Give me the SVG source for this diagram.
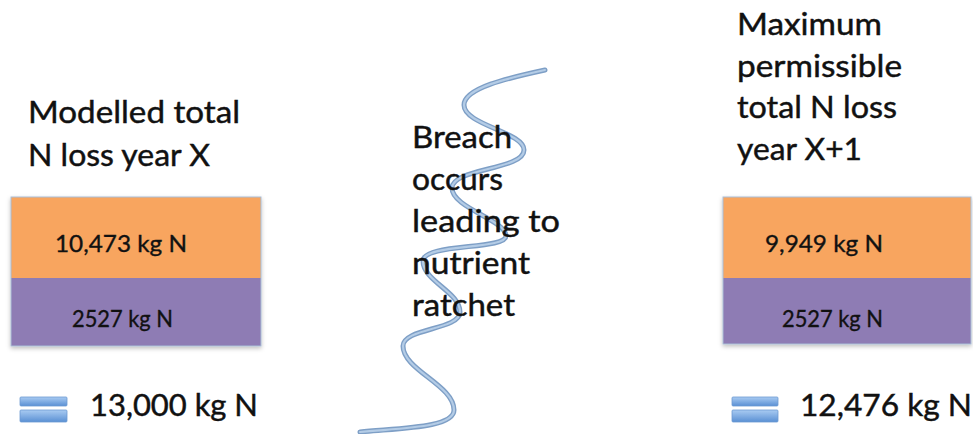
<svg xmlns="http://www.w3.org/2000/svg" width="973" height="434" viewBox="0 0 973 434">
<style>
.t{font-family:Lato,"Liberation Sans",Arial,sans-serif;fill:#111;stroke:#111;stroke-width:0.45;}
.big{font-size:31px;}
.lbl{font-size:23px;stroke-width:0.35;}
.orange{fill:#F8A55F;}
.purple{fill:#8E7CB4;}
.edge{fill:none;stroke:#A9BED6;stroke-width:1;}
.bar{fill:url(#eq);stroke:#6C9BD2;stroke-width:0.8;}
</style>
<defs>
<linearGradient id="eq" x1="0" y1="0" x2="0" y2="1">
<stop offset="0" stop-color="#A9CBF2"/>
<stop offset="1" stop-color="#5A90D4"/>
</linearGradient>
<filter id="sh" x="-5%" y="-5%" width="110%" height="120%">
<feDropShadow dx="0" dy="2" stdDeviation="2" flood-color="#000" flood-opacity="0.25"/>
</filter>
</defs>
<rect width="973" height="434" fill="#fff"/>

<g id="wave" fill="none" stroke-linecap="round">
<path d="M545,70 C508,78 464,88 464,105 C464,125 524,132 524,150 C524,170 452,168 452,188 C452,208 506,220 506,236 C506,250 423,243 423,261 C423,281 460,292 460,312 C460,330 403,328 403,346 C403,370 454,385 454,410 C454,428 400,428 360,432" stroke="#7E9FC6" stroke-width="5"/>
<path d="M545,70 C508,78 464,88 464,105 C464,125 524,132 524,150 C524,170 452,168 452,188 C452,208 506,220 506,236 C506,250 423,243 423,261 C423,281 460,292 460,312 C460,330 403,328 403,346 C403,370 454,385 454,410 C454,428 400,428 360,432" stroke="#B4CCE6" stroke-width="2.2"/>
</g>

<g id="left-title">
<text class="t big" x="28" y="123" textLength="212" lengthAdjust="spacingAndGlyphs">Modelled total</text>
<text class="t big" x="28" y="166" textLength="182" lengthAdjust="spacingAndGlyphs">N loss year X</text>
</g>

<g id="left-stack" filter="url(#sh)">
<rect class="orange" x="11" y="197" width="250" height="81"/>
<rect class="purple" x="11" y="278" width="250" height="68"/>
<rect class="edge" x="11" y="197" width="250" height="149"/>
</g>
<g id="left-labels">
<text class="t lbl" x="55" y="252" textLength="132" lengthAdjust="spacingAndGlyphs">10,473 kg N</text>
<text class="t lbl" x="72" y="327" textLength="101" lengthAdjust="spacingAndGlyphs">2527 kg N</text>
</g>

<g id="left-total">
<rect class="bar" x="20" y="397" width="47" height="9" rx="1"/>
<rect class="bar" x="20" y="410" width="47" height="12" rx="1"/>
<text class="t big" x="90" y="416" textLength="168" lengthAdjust="spacingAndGlyphs">13,000 kg N</text>
</g>

<g id="middle-text">
<text class="t big" x="412" y="148" textLength="100" lengthAdjust="spacingAndGlyphs">Breach</text>
<text class="t big" x="412" y="190" textLength="91" lengthAdjust="spacingAndGlyphs">occurs</text>
<text class="t big" x="412" y="232" textLength="148" lengthAdjust="spacingAndGlyphs">leading to</text>
<text class="t big" x="412" y="274" textLength="118" lengthAdjust="spacingAndGlyphs">nutrient</text>
<text class="t big" x="412" y="316" textLength="103" lengthAdjust="spacingAndGlyphs">ratchet</text>
</g>

<g id="right-title">
<text class="t big" x="737" y="35" textLength="145" lengthAdjust="spacingAndGlyphs">Maximum</text>
<text class="t big" x="737" y="77" textLength="165" lengthAdjust="spacingAndGlyphs">permissible</text>
<text class="t big" x="737" y="118" textLength="160" lengthAdjust="spacingAndGlyphs">total N loss</text>
<text class="t big" x="737" y="160" textLength="125" lengthAdjust="spacingAndGlyphs">year X+1</text>
</g>

<g id="right-stack" filter="url(#sh)">
<rect class="orange" x="723" y="197" width="248" height="81"/>
<rect class="purple" x="723" y="278" width="248" height="66"/>
<rect class="edge" x="723" y="197" width="248" height="147"/>
</g>
<g id="right-labels">
<text class="t lbl" x="765" y="252" textLength="118" lengthAdjust="spacingAndGlyphs">9,949 kg N</text>
<text class="t lbl" x="782" y="327" textLength="101" lengthAdjust="spacingAndGlyphs">2527 kg N</text>
</g>

<g id="right-total">
<rect class="bar" x="732" y="397" width="46" height="9" rx="1"/>
<rect class="bar" x="732" y="410" width="46" height="12" rx="1"/>
<text class="t big" x="800" y="416" textLength="172" lengthAdjust="spacingAndGlyphs">12,476 kg N</text>
</g>
</svg>
